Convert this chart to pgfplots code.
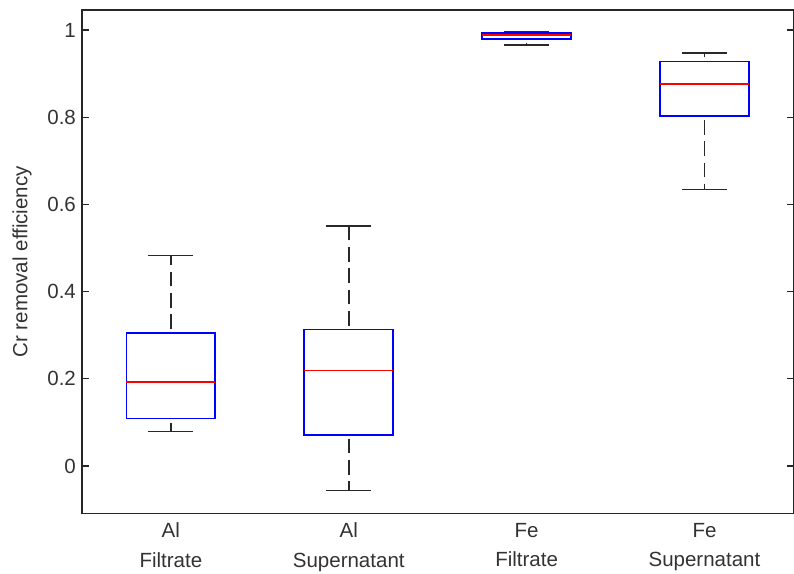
\documentclass[border=0pt]{standalone}
\usepackage{fontspec}
\setmainfont{Liberation Sans}
\usepackage{pgfplots}
\pgfplotsset{compat=1.18}
\definecolor{mblue}{RGB}{0,0,255}
\definecolor{mred}{RGB}{255,0,0}
\definecolor{wgray}{RGB}{40,40,40}
\begin{document}
\begin{tikzpicture}
\begin{axis}[
  scale only axis,
  width=534pt, height=378pt,
  xmin=0.5, xmax=4.5,
  ymin=-0.109, ymax=1.046,
  axis line style={line width=0.9pt, black!85},
  every tick/.style={line width=0.9pt, black!85},
  xtick={1,2,3,4},
  xticklabels={{Al\\Filtrate},{Al\\Supernatant},{Fe\\Filtrate},{Fe\\Supernatant}},
  xticklabel style={align=center, font=\fontsize{15.4}{22}\selectfont, text=black!80, yshift=-3.5pt},
  major x tick style={draw=none},
  ytick={0,0.2,0.4,0.6,0.8,1},
  yticklabels={0,0.2,0.4,0.6,0.8,1},
  yticklabel style={font=\fontsize{15.4}{18}\selectfont, text=black!80, xshift=-1pt},
  ytick pos=both,
  tick align=inside,
  major tick length=5pt,
  /pgf/number format/assume math mode=true,
  ylabel={Cr removal efficiency},
  ylabel style={font=\fontsize{15.4}{18}\selectfont, text=black!80, yshift=5pt},
  boxline/.style={mblue, line width=1.3pt, line join=miter},
  medline/.style={mred, line width=1.3pt},
  whisk/.style={wgray, line width=1.2pt, dash pattern=on 11pt off 5pt, dash phase=-3pt},
  capline/.style={wgray, line width=1.2pt},
]
% ---------- Al Filtrate (x=1): LW 0.079, Q1 0.109, Med 0.192, Q3 0.305, UW 0.483
\addplot[whisk] coordinates {(1,0.305) (1,0.483)};
\addplot[whisk] coordinates {(1,0.109) (1,0.079)};
\addplot[capline] coordinates {(0.873,0.483) (1.127,0.483)};
\addplot[capline] coordinates {(0.873,0.079) (1.127,0.079)};
\addplot[boxline] coordinates {(0.75,0.109) (1.25,0.109) (1.25,0.305) (0.75,0.305)} -- cycle;
\addplot[medline] coordinates {(0.75,0.192) (1.25,0.192)};
% ---------- Al Supernatant (x=2): LW -0.056, Q1 0.072, Med 0.219, Q3 0.313, UW 0.550
\addplot[whisk] coordinates {(2,0.313) (2,0.550)};
\addplot[whisk] coordinates {(2,0.072) (2,-0.056)};
\addplot[capline] coordinates {(1.873,0.550) (2.127,0.550)};
\addplot[capline] coordinates {(1.873,-0.056) (2.127,-0.056)};
\addplot[boxline] coordinates {(1.75,0.072) (2.25,0.072) (2.25,0.313) (1.75,0.313)} -- cycle;
\addplot[medline] coordinates {(1.75,0.219) (2.25,0.219)};
% ---------- Fe Filtrate (x=3): LW 0.966, Q1 0.980, Med 0.989, Q3 0.994, UW 0.996
\addplot[whisk] coordinates {(3,0.994) (3,0.996)};
\addplot[whisk] coordinates {(3,0.980) (3,0.966)};
\addplot[capline] coordinates {(2.873,0.996) (3.127,0.996)};
\addplot[capline] coordinates {(2.873,0.966) (3.127,0.966)};
\addplot[boxline] coordinates {(2.75,0.980) (3.25,0.980) (3.25,0.994) (2.75,0.994)} -- cycle;
\addplot[medline] coordinates {(2.75,0.989) (3.25,0.989)};
% ---------- Fe Supernatant (x=4): LW 0.634, Q1 0.803, Med 0.876, Q3 0.928, UW 0.947
\addplot[whisk] coordinates {(4,0.928) (4,0.947)};
\addplot[whisk] coordinates {(4,0.803) (4,0.634)};
\addplot[capline] coordinates {(3.873,0.947) (4.127,0.947)};
\addplot[capline] coordinates {(3.873,0.634) (4.127,0.634)};
\addplot[boxline] coordinates {(3.75,0.803) (4.25,0.803) (4.25,0.928) (3.75,0.928)} -- cycle;
\addplot[medline] coordinates {(3.75,0.876) (4.25,0.876)};
\end{axis}
\pgfresetboundingbox
\path (current axis.south west) -- ++(-61.5pt,-45pt);
\path (current axis.north east) -- ++(0.45pt,7.5pt);
\end{tikzpicture}
\end{document}
